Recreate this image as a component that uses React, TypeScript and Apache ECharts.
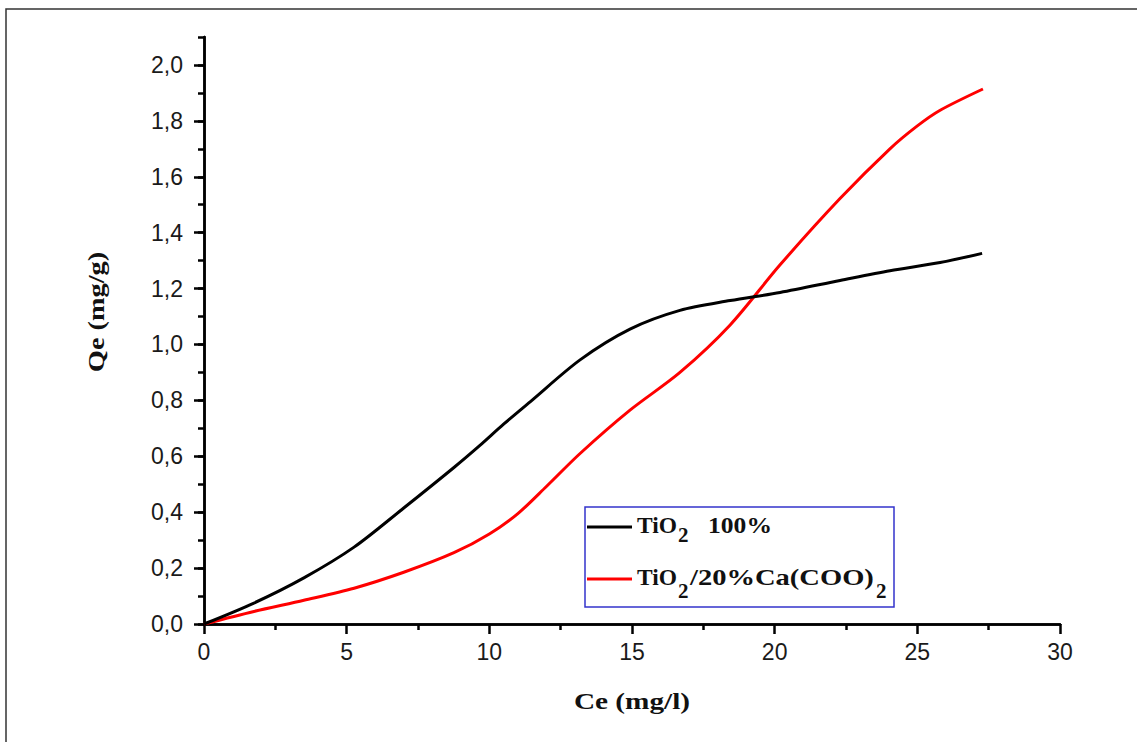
import React, { useEffect, useRef } from "react";
import * as echarts from "echarts";

// TiO2 100% (black)
const tio2X = [0, 1.75, 3.5, 5.26, 7.0, 8.76, 9.67, 10.5, 11.43, 13.18, 14.93, 16.68, 18.44, 20.19, 22.29, 24.04, 25.8, 27.27];
const tio2Y = [0, 0.075, 0.165, 0.275, 0.415, 0.56, 0.639, 0.715, 0.795, 0.945, 1.055, 1.122, 1.157, 1.186, 1.229, 1.264, 1.293, 1.326];
// TiO2/20%Ca(COO)2 (red)
const caX = [0, 1.75, 3.5, 5.26, 7.0, 8.76, 10.0, 11.0, 12.0, 13.18, 14.93, 16.68, 18.44, 20.19, 22.29, 24.04, 25.0, 25.8, 27.3];
const caY = [0, 0.045, 0.085, 0.128, 0.185, 0.255, 0.322, 0.395, 0.492, 0.61, 0.765, 0.9, 1.07, 1.285, 1.522, 1.7, 1.782, 1.838, 1.914];

const yMajorTicks = [0, 0.2, 0.4, 0.6, 0.8, 1.0, 1.2, 1.4, 1.6, 1.8, 2.0];
const xTitle = "Ce (mg/l)";
const yTitle = "Qe (mg/g)";
const legendNames = ["TiO2 100%", "TiO2/20%Ca(COO)2"];

const GRID = { left: 204, top: 37, width: 856, height: 587 };
const SERIF = "'Liberation Serif', 'Times New Roman', serif";
const SANS = "'Liberation Sans', Arial, sans-serif";

type Piece = { t: string; x: number; end?: number; sub?: boolean };

export default function App() {
  const ref = useRef<HTMLDivElement>(null);
  useEffect(() => {
    document.body.style.margin = "0";
    if (!ref.current) return;
    const chart = echarts.init(ref.current, null, { renderer: "svg" });
    const zip = (xs: number[], ys: number[]) => xs.map((x, i) => [x, ys[i]]);
    const axisLine = { show: true, lineStyle: { color: "#000", width: 2.5 } };
    const labelStyle = { color: "#1a1a1a", fontFamily: SANS, fontSize: 23 };

    const ctx = document.createElement("canvas").getContext("2d")!;
    const measure = (t: string, size: number) => {
      ctx.font = `bold ${size}px 'Liberation Serif'`;
      return ctx.measureText(t).width;
    };
    const MAIN = 23;
    const SUB = 21;
    const pieceEls = (pieces: Piece[], yMain: number, ySub: number) =>
      pieces.map((p) => {
        const size = p.sub ? SUB : MAIN;
        const w = measure(p.t, size);
        const sx = p.end ? (p.end - p.x) / w : 1;
        return {
          type: "text", x: p.x, y: p.sub ? ySub : yMain, scaleX: sx, z: 11,
          style: {
            text: p.t, fontFamily: SERIF, fontWeight: "bold", fontSize: size, fill: "#111",
            align: "left", verticalAlign: "middle",
          },
        };
      });
    const line1: Piece[] = [
      { t: "TiO", x: 637, end: 677 },
      { t: "2", x: 678, sub: true },
      { t: "100%", x: 708, end: 772 },
    ];
    const line2: Piece[] = [
      { t: "TiO", x: 637, end: 677 },
      { t: "2", x: 678, sub: true },
      { t: "/20%Ca(COO)", x: 690, end: 874 },
      { t: "2", x: 876, sub: true },
    ];

    chart.setOption({
      animation: false,
      backgroundColor: "#fff",
      grid: [
        { ...GRID, containLabel: false },
        { ...GRID, containLabel: false },
      ],
      xAxis: [
        {
          type: "value", gridIndex: 0, position: "bottom", min: 0, max: 30, interval: 5,
          axisLine,
          axisTick: { show: true, inside: false, length: 10, lineStyle: { color: "#000", width: 2.5 } },
          minorTick: { show: true, splitNumber: 2, length: 6, lineStyle: { color: "#000", width: 2.5 } },
          axisLabel: { ...labelStyle, margin: 16 },
          splitLine: { show: false },
        },
        {
          type: "value", gridIndex: 0, position: "top", min: 0, max: 30,
          axisLine, axisTick: { show: false }, axisLabel: { show: false }, splitLine: { show: false },
        },
        { type: "value", gridIndex: 1, min: 0, max: 30, show: false },
      ],
      yAxis: [
        {
          type: "value", gridIndex: 0, position: "left", min: 0, max: 2.1,
          axisLine,
          axisTick: { show: true, inside: false, length: 10, customValues: yMajorTicks, lineStyle: { color: "#000", width: 2.5 } },
          axisLabel: {
            ...labelStyle, margin: 21, customValues: yMajorTicks,
            formatter: (v: number) => v.toFixed(1).replace(".", ","),
          },
          splitLine: { show: false },
        },
        {
          type: "value", gridIndex: 0, position: "right", min: 0, max: 2.1,
          axisLine, axisTick: { show: false }, axisLabel: { show: false }, splitLine: { show: false },
        },
        {
          type: "value", gridIndex: 1, position: "left", min: 0, max: 2.1, interval: 0.1,
          axisLine: { show: false },
          axisTick: { show: true, inside: false, length: 6, lineStyle: { color: "#000", width: 2.5 } },
          axisLabel: { show: false }, splitLine: { show: false },
        },
      ],
      series: [
        {
          name: legendNames[0], type: "line", xAxisIndex: 0, yAxisIndex: 0,
          data: zip(tio2X, tio2Y), smooth: 0.3, showSymbol: false, symbol: "none",
          lineStyle: { color: "#000", width: 3 }, itemStyle: { color: "#000" }, z: 3,
        },
        {
          name: legendNames[1], type: "line", xAxisIndex: 0, yAxisIndex: 0,
          data: zip(caX, caY), smooth: 0.3, showSymbol: false, symbol: "none",
          lineStyle: { color: "#ff0000", width: 3 }, itemStyle: { color: "#ff0000" }, z: 2,
        },
      ],
      graphic: [
        {
          type: "rect", shape: { x: 6, y: 9, width: 1160, height: 760 },
          style: { fill: "none", stroke: "#333", lineWidth: 1.5 }, silent: true, z: 0,
        },
        {
          type: "text", x: GRID.left + GRID.width / 2, y: 701, scaleX: 1.22,
          style: { text: xTitle, fontFamily: SERIF, fontWeight: "bold", fontSize: 24, fill: "#111", align: "center", verticalAlign: "middle" },
        },
        {
          type: "text", x: 96, y: 312, rotation: Math.PI / 2, scaleX: 1.18,
          style: { text: yTitle, fontFamily: SERIF, fontWeight: "bold", fontSize: 24, fill: "#111", align: "center", verticalAlign: "middle" },
        },
        {
          type: "rect", shape: { x: 585, y: 507, width: 309, height: 100 },
          style: { fill: "#fff", stroke: "#3333cc", lineWidth: 1.5 }, z: 10,
        },
        {
          type: "line", shape: { x1: 587, y1: 527, x2: 632, y2: 527 },
          style: { stroke: "#000", lineWidth: 3 }, z: 11,
        },
        {
          type: "line", shape: { x1: 587, y1: 579, x2: 632, y2: 579 },
          style: { stroke: "#ff0000", lineWidth: 3 }, z: 11,
        },
        ...pieceEls(line1, 525, 535),
        ...pieceEls(line2, 577, 591),
      ],
    });
    return () => chart.dispose();
  }, []);
  return <div ref={ref} style={{ width: 1137, height: 742 }} />;
}
